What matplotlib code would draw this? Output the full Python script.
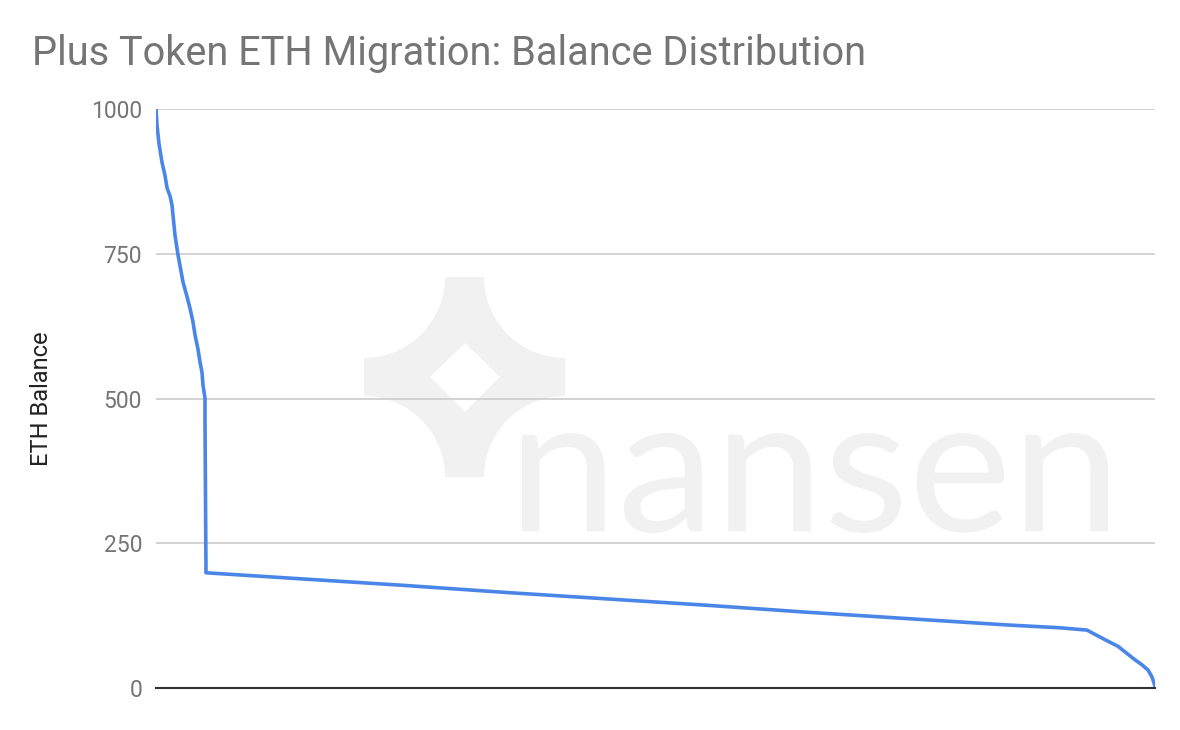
import numpy as np
import matplotlib
matplotlib.use("Agg")
import matplotlib.pyplot as plt
from matplotlib.path import Path
from matplotlib.patches import PathPatch
from matplotlib.textpath import TextPath
from matplotlib.font_manager import FontProperties
from matplotlib.transforms import Affine2D

# wallet rank (sorted by balance, descending) and ETH balance
rank = [0, 1, 3, 6, 9, 11, 14, 16, 19, 22, 25, 27, 31, 34, 37, 39, 42, 44, 46, 47, 48, 49, 49,
        50, 150, 250, 350, 450, 550, 650, 750, 850, 904, 931,
        944, 954, 962, 970, 978, 986, 992, 996, 998, 999]
balance = [1000, 972, 940, 908, 885, 864, 850, 834, 782, 748, 720, 701, 676, 656, 632, 610, 585, 563, 545, 523, 512, 501, 460,
           199, 188, 177, 165, 154, 143, 131, 120, 109, 104, 100,
           88, 79, 72, 61, 50, 40, 31, 19, 9, 2]
yticks = [0, 250, 500, 750, 1000]

title = "Plus Token ETH Migration: Balance Distribution"
ylabel = "ETH Balance"

plt.rcParams['font.family'] = ['Roboto', 'DejaVu Sans']

fig = plt.figure(figsize=(11.8, 7.3), dpi=100)

# watermark (nansen logo) drawn in pixel space behind the chart
bg = fig.add_axes([0, 0, 1, 1], zorder=0)
bg.set_xlim(0, 1180)
bg.set_ylim(730, 0)
bg.axis('off')
wm = '#f1f1f1'

t = np.linspace(0, np.pi / 2, 30)
r = 81
L, R, T, B = 364, 565, 277, 477
outer = [(L + r, T)]
outer += list(zip(R - r * np.cos(t), T + r * np.sin(t)))
outer += list(zip(R - r * np.sin(t), B - r * np.cos(t)))
outer += list(zip(L + r * np.cos(t), B - r * np.sin(t)))
outer += list(zip(L + r * np.sin(t), T + r * np.cos(t)))
outer.append(outer[0])
hole = [(465, 343), (430, 377), (465, 412), (500, 377), (465, 343)]
verts = outer + hole
codes = ([Path.MOVETO] + [Path.LINETO] * (len(outer) - 2) + [Path.CLOSEPOLY]
         + [Path.MOVETO] + [Path.LINETO] * 3 + [Path.CLOSEPOLY])
bg.add_patch(PathPatch(Path(verts, codes), facecolor=wm, edgecolor='none'))

tp = TextPath((0, 0), "nansen", size=100, prop=FontProperties(family='Lato'))
ext = tp.get_extents()
sx = (1108 - 522) / ext.width
sy = (533 - 433) / ext.height
tr = Affine2D().translate(-ext.x0, -ext.y0).scale(sx, -sy).translate(522, 533)
bg.add_patch(PathPatch(tr.transform_path(tp), facecolor=wm, edgecolor='none'))

# main chart
ax = fig.add_axes([156 / 1180, 42 / 730, 999 / 1180, 579 / 730], zorder=1)
ax.patch.set_alpha(0)
ax.plot(rank, balance, color='#4a86e8', linewidth=2.6, solid_joinstyle='round', zorder=3)

ax.set_xlim(0, 999)
ax.set_ylim(0, 1000)
ax.set_yticks(yticks)
ax.set_xticks([])
ax.tick_params(axis='y', length=0, pad=10, labelsize=16.5, labelcolor='#757575')
ax.grid(axis='y', color='#cccccc', linewidth=1.2, zorder=1)
for s in ['top', 'right', 'left']:
    ax.spines[s].set_visible(False)
ax.spines['bottom'].set_color('#333333')
ax.spines['bottom'].set_linewidth(1.5)
ax.spines['bottom'].set_zorder(4)

ax.set_ylabel(ylabel, fontsize=17, color='#222222', labelpad=27)
fig.text(32 / 1180, 1 - 65 / 730, title, fontsize=28.6, color='#757575', ha='left', va='baseline')

fig.savefig('out.png', dpi=100)
